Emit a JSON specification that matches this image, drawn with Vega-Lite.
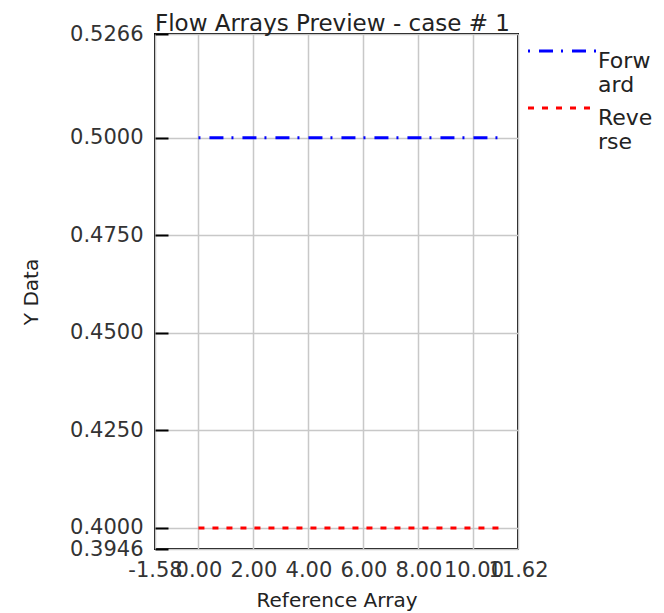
{
  "$schema": "https://vega.github.io/schema/vega-lite/v6.json",
  "autosize": "none",
  "width": 363,
  "height": 515,
  "padding": {"left": 155, "top": 34, "right": 146, "bottom": 64},
  "background": "white",
  "config": {
    "font": "DejaVu Sans",
    "view": {"stroke": "black", "strokeWidth": 2},
    "axis": {"domain": false, "gridColor": "#c8c8c8", "gridWidth": 1.5, "labelColor": "#333", "titleColor": "#222", "labelFontSize": 21, "titleFontSize": 20, "titleFontWeight": "normal", "labelFont": "DejaVu Sans", "titleFont": "DejaVu Sans"}
  },
  "title": {"text": "Flow Arrays Preview - case # 1", "anchor": "start", "frame": "group", "fontSize": 23, "fontWeight": "normal", "color": "#222", "offset": -13, "font": "DejaVu Sans"},
  "data": {"values": [
    {"x": 0, "y": 0.5, "s": "Forward"}, {"x": 1, "y": 0.5, "s": "Forward"}, {"x": 2, "y": 0.5, "s": "Forward"}, {"x": 3, "y": 0.5, "s": "Forward"},
    {"x": 4, "y": 0.5, "s": "Forward"}, {"x": 5, "y": 0.5, "s": "Forward"}, {"x": 6, "y": 0.5, "s": "Forward"}, {"x": 7, "y": 0.5, "s": "Forward"},
    {"x": 8, "y": 0.5, "s": "Forward"}, {"x": 9, "y": 0.5, "s": "Forward"}, {"x": 10, "y": 0.5, "s": "Forward"}, {"x": 11, "y": 0.5, "s": "Forward"},
    {"x": 0, "y": 0.4, "s": "Reverse"}, {"x": 1, "y": 0.4, "s": "Reverse"}, {"x": 2, "y": 0.4, "s": "Reverse"}, {"x": 3, "y": 0.4, "s": "Reverse"},
    {"x": 4, "y": 0.4, "s": "Reverse"}, {"x": 5, "y": 0.4, "s": "Reverse"}, {"x": 6, "y": 0.4, "s": "Reverse"}, {"x": 7, "y": 0.4, "s": "Reverse"},
    {"x": 8, "y": 0.4, "s": "Reverse"}, {"x": 9, "y": 0.4, "s": "Reverse"}, {"x": 10, "y": 0.4, "s": "Reverse"}, {"x": 11, "y": 0.4, "s": "Reverse"}
  ]},
  "mark": {"type": "line", "strokeWidth": 3, "clip": true},
  "encoding": {
    "x": {"field": "x", "type": "quantitative", "scale": {"domain": [-1.58, 11.62], "nice": false, "zero": false},
      "axis": {"title": "Reference Array", "values": [-1.58, 0, 2, 4, 6, 8, 10, 11.62], "format": ".2f", "labelExpr": "replace(datum.label, '\u2212', '-')", "ticks": false, "labelFlush": false, "labelOverlap": false, "labelPadding": 10, "titlePadding": 10}},
    "y": {"field": "y", "type": "quantitative", "scale": {"domain": [0.3946, 0.5266], "nice": false, "zero": false},
      "axis": {"title": "Y Data", "values": [0.3946, 0.4, 0.425, 0.45, 0.475, 0.5, 0.5266], "format": ".4f", "tickSize": -13, "tickColor": "black", "tickWidth": 2, "labelFlush": false, "labelOverlap": false, "labelPadding": 25, "titlePadding": 28}},
    "color": {"field": "s", "type": "nominal", "scale": {"domain": ["Forward", "Reverse"], "range": ["#0000ff", "#ff0000"]},
      "legend": {"title": null, "orient": "none", "legendX": 397, "legendY": 6, "symbolType": "M-7,0H7", "symbolSize": 100, "symbolStrokeWidth": 3, "labelFontSize": 22, "labelColor": "#222", "labelFont": "DejaVu Sans",
        "labelExpr": "datum.label == 'Forward' ? ['Forw', 'ard'] : ['Reve', 'rse']", "labelBaseline": "top", "labelOffset": 24, "rowPadding": 1}},
    "strokeDash": {"field": "s", "type": "nominal", "scale": {"domain": ["Forward", "Reverse"], "range": [[2, 9, 14, 8], [6, 8]]}}
  }
}
